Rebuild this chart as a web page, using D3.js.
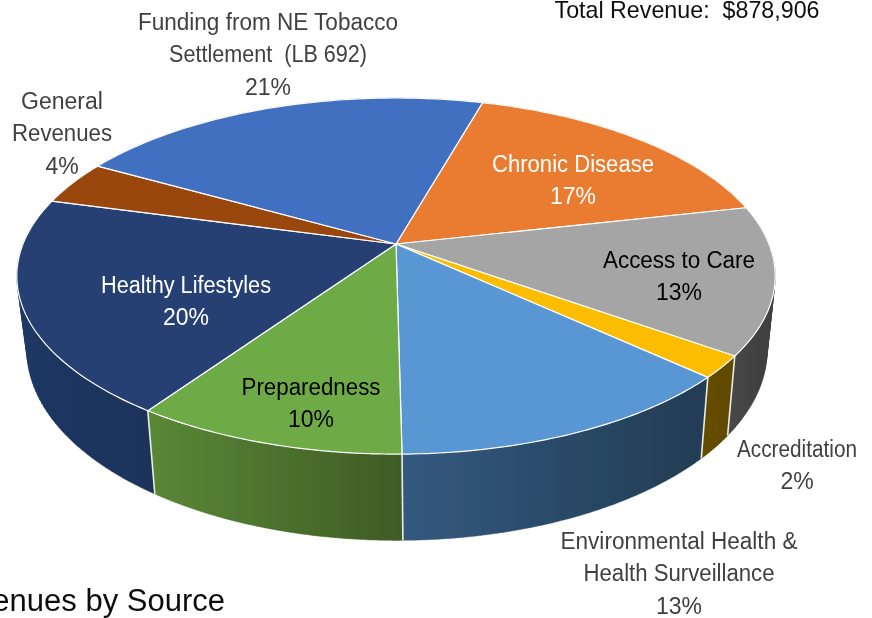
<!DOCTYPE html>
<html><head><meta charset="utf-8">
<script src="https://cdn.jsdelivr.net/npm/d3@7"></script>
<style>html,body{margin:0;padding:0;background:#fff;overflow:hidden}svg{display:block}text{font-family:"Liberation Sans",Arial,sans-serif}</style>
</head><body><svg id="c" width="872" height="618"></svg>
<script>
const categories=["Chronic Disease","Access to Care","Accreditation","Environmental Health & Health Surveillance","Preparedness","Healthy Lifestyles","General Revenues","Funding from NE Tobacco Settlement (LB 692)"];
const shares=[17.1,13.4,2.0,12.9,9.8,19.6,4.0,21.2];
const topColors=["#ea7c31","#a5a5a5","#fcbd00","#5997d4","#6eab47","#254073","#99460c","#4170bf"];
const wallLeft=["#8a4a1c","#474747","#664d00","#33597f","#598836","#1f3864","#6e3209","#2f4f88"];
const wallRight=["#8a4a1c","#3e3e3e","#5f4800","#223c53","#3f5c25","#1e3359","#6e3209","#2f4f88"];
const labelLines=[["Chronic Disease","17%"],["Access to Care","13%"],["Accreditation","2%"],["Environmental Health &","Health Surveillance","13%"],["Preparedness","10%"],["Healthy Lifestyles","20%"],["General","Revenues","4%"],["Funding from NE Tobacco","Settlement  (LB 692)","21%"]];
const labelWidths=[[162,null],[152,null],[120,null],[237,191,null],[139,null],[170,null],[null,100,null],[260,198,null]];
const labelColors=["#fff","#000","#404040","#404040","#000","#fff","#404040","#404040"];
const labelX=[573,679,797,679,311,186,62,268];
const labelY=[165,261,450,542,388,286,102,23];
const titleTop="Total Revenue:  $878,906";
const titleBottom="Revenues by Source";

const svg=d3.select("#c"),defs=svg.append("defs");
defs.append("filter").attr("id","soft").attr("x","-2%").attr("y","-2%").attr("width","104%").attr("height","104%")
  .append("feGaussianBlur").attr("stdDeviation",0.45);
const root=svg.append("g").attr("filter","url(#soft)");
root.append("rect").attr("width",872).attr("height",618).attr("fill","#fff");
const startDeg=15.8;
const pie=d3.pie().sort(null).value(d=>d).startAngle(startDeg*Math.PI/180).endAngle((startDeg+360)*Math.PI/180);
const arcs=pie(shares);
const proj=(t,r)=>{const u=Math.sin(t),v=Math.cos(t),w=1+r.k*v;return [r.cx+r.a*u/w,r.cy-r.b*v/w];};
const topRing={cx:396,cy:244,a:373,b:172.3,k:.18},botRing={cx:397,cy:316,a:364,b:184,k:.18};
const N=d3.range(0,1.0001,1/60);
const angle=(a,f)=>a.startAngle+(a.endAngle-a.startAngle)*f;
const line=d3.line();
// walls, back to front; each wall is a union of small quads so its outer edge follows the silhouette
const order=d3.range(arcs.length).sort((i,j)=>Math.cos((arcs[j].startAngle+arcs[j].endAngle)/2)-Math.cos((arcs[i].startAngle+arcs[i].endAngle)/2));
order.forEach(i=>{
  const a=arcs[i];
  const t=N.map(f=>proj(angle(a,f),topRing)),b=N.map(f=>proj(angle(a,f),botRing));
  const xs=t.concat(b).filter((p,q)=>Math.cos(angle(a,N[q%N.length]))<.1).map(p=>p[0]);
  const g=defs.append("linearGradient").attr("id","w"+i).attr("gradientUnits","userSpaceOnUse")
    .attr("x1",d3.min(xs)).attr("x2",d3.max(xs)).attr("y1",0).attr("y2",0);
  g.append("stop").attr("offset",0).attr("stop-color",wallLeft[i]);
  g.append("stop").attr("offset",1).attr("stop-color",wallRight[i]);
  let d="";
  for(let q=0;q<N.length-1;q++){
    const quad=[t[q],t[q+1],b[q+1],b[q]];
    const area=d3.polygonArea(quad);
    d+=line(area>0?quad:quad.slice().reverse())+"Z";
  }
  root.append("path").attr("d",d).attr("fill",`url(#w${i})`).attr("stroke",`url(#w${i})`).attr("stroke-width",.4);
});
// wall separators on the front-facing boundaries
arcs.forEach(a=>{
  if(Math.cos(a.startAngle)<-.1){
    root.append("path").attr("d",line([proj(a.startAngle,topRing),proj(a.startAngle,botRing)]))
      .attr("stroke","#e8ece4").attr("stroke-width",1.6).attr("fill","none");
  }
});
// top slices
const c=[topRing.cx,topRing.cy];
arcs.forEach((a,i)=>{
  root.append("path").attr("d",line([c].concat(N.map(f=>proj(angle(a,f),topRing))))+"Z")
    .attr("fill",topColors[i]).attr("stroke","#fff").attr("stroke-width",1.2).attr("stroke-linejoin","round");
});
// labels
labelLines.forEach((ls,i)=>{
  ls.forEach((s,j)=>{
    const t=root.append("text").attr("x",labelX[i]).attr("y",labelY[i]+j*32.3+7).attr("text-anchor","middle")
      .attr("font-size",23).attr("fill",labelColors[i]).style("white-space","pre").text(s);
    if(labelWidths[i][j]) t.attr("textLength",labelWidths[i][j]).attr("lengthAdjust","spacingAndGlyphs");
  });
});
root.append("text").attr("x",687).attr("y",18).attr("text-anchor","middle").attr("font-size",24).attr("fill","#111").style("white-space","pre")
  .attr("textLength",265).attr("lengthAdjust","spacingAndGlyphs").text(titleTop);
root.append("text").attr("x",225).attr("y",611).attr("text-anchor","end").attr("font-size",31).attr("fill","#111").text(titleBottom);
</script></body></html>
